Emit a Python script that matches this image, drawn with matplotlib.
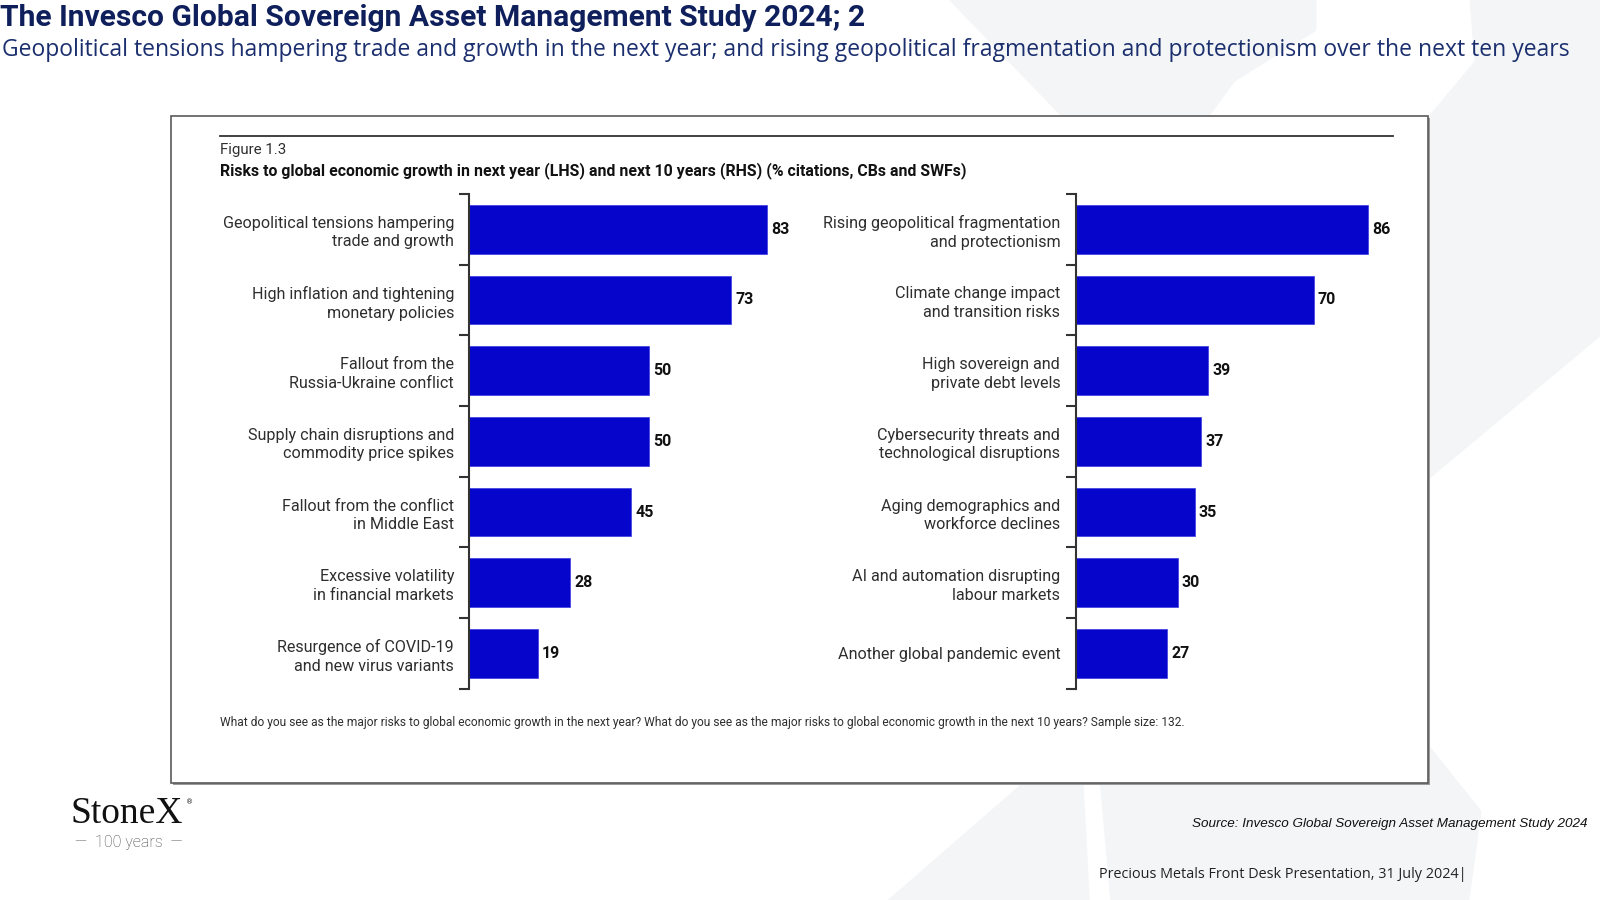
import matplotlib.pyplot as plt
from matplotlib.patches import Rectangle, Polygon

# ---- data ----
left_labels = [
    "Geopolitical tensions hampering\ntrade and growth",
    "High inflation and tightening\nmonetary policies",
    "Fallout from the\nRussia-Ukraine conflict",
    "Supply chain disruptions and\ncommodity price spikes",
    "Fallout from the conflict\nin Middle East",
    "Excessive volatility\nin financial markets",
    "Resurgence of COVID-19\nand new virus variants",
]
left_values = [83, 73, 50, 50, 45, 28, 19]

right_labels = [
    "Rising geopolitical fragmentation\nand protectionism",
    "Climate change impact\nand transition risks",
    "High sovereign and\nprivate debt levels",
    "Cybersecurity threats and\ntechnological disruptions",
    "Aging demographics and\nworkforce declines",
    "AI and automation disrupting\nlabour markets",
    "Another global pandemic event",
]
right_values = [86, 70, 39, 37, 35, 30, 27]

title = "The Invesco Global Sovereign Asset Management Study 2024; 2"
subtitle = ("Geopolitical tensions hampering trade and growth in the next year; and rising "
            "geopolitical fragmentation and protectionism over the next ten years")
fig_label = "Figure 1.3"
chart_title = ("Risks to global economic growth in next year (LHS) and next 10 years (RHS) "
               "(% citations, CBs and SWFs)")
footnote = ("What do you see as the major risks to global economic growth in the next year? "
            "What do you see as the major risks to global economic growth in the next 10 years? "
            "Sample size: 132.")
source = "Source: Invesco Global Sovereign Asset Management Study 2024"
footer = "Precious Metals Front Desk Presentation, 31 July 2024|"

BAR = "#0505cc"
NAVY = "#0e1f5b"
TXT = "#2e2e2e"
W, H = 1568.0, 882.0


def fx(x):
    return x / W


def fy(y):
    return 1 - y / H


def shape(pts):
    # faint background watermark piece, points given in page pixels
    fig.patches.append(Polygon([(fx(a), fy(b)) for a, b in pts], closed=True,
                               transform=fig.transFigure, facecolor="#f4f5f7",
                               edgecolor="none", zorder=0))


fig = plt.figure(figsize=(16, 9), dpi=100)
fig.patch.set_facecolor("white")

shape([(930, 0), (1290, 0), (1290, 30), (1210, 80), (1185, 114), (1040, 114)])
shape([(1440, 0), (1568, 0), (1568, 330), (1400, 470), (1400, 114), (1445, 60)])
shape([(870, 882), (1000, 769), (1062, 769), (1068, 882)])
shape([(1088, 882), (1078, 769), (1400, 769), (1400, 730), (1452, 795), (1440, 882)])

# framed chart box with slight shadow
fig.patches.append(Rectangle((fx(170), fy(769)), fx(1231), 653 / H, transform=fig.transFigure,
                             facecolor="#9a9a9a", edgecolor="none", zorder=1))
fig.patches.append(Rectangle((fx(168), fy(767)), fx(1231), 653 / H, transform=fig.transFigure,
                             facecolor="white", edgecolor="#5a5a5a", lw=1.2, zorder=2))
fig.add_artist(plt.Line2D([fx(216), fx(1365)], [fy(133), fy(133)], color="#333333", lw=1.3,
                          transform=fig.transFigure, zorder=3))

# headings
fig.text(fx(0), fy(18), title, fontsize=21.6, fontweight="bold", color=NAVY,
         family="Roboto", va="center", ha="left")
fig.text(fx(2), fy(49), subtitle, fontsize=16.5, color="#1b2f6e",
         family="Open Sans", va="center", ha="left")
fig.text(fx(216), fy(147), fig_label, fontsize=10.8, color=TXT, family="Roboto",
         va="center", ha="left", zorder=4)
fig.text(fx(216), fy(167), chart_title, fontsize=11.4, fontweight="bold", color="#111111",
         family="Roboto", va="center", ha="left", zorder=4)
fig.text(fx(216), fy(708), footnote, fontsize=8.65, color=TXT, family="Roboto",
         va="center", ha="left", zorder=4)


def draw_panel(x0, scale, labels, values):
    # scale: pixels per unit of value; axes spans 0..100
    ax = fig.add_axes([fx(x0), fy(675), fx(100 * scale), 485 / H])
    ax.set_zorder(5)
    ax.patch.set_alpha(0)
    y = list(range(len(values)))
    ax.barh(y, values, height=0.69, color=BAR, edgecolor="#3a3ae0", lw=0.5)
    for yi, v in zip(y, values):
        ax.text(v + 1.2, yi, str(v), va="center", ha="left", fontsize=11.5,
                fontweight="bold", color="#111111", family="Roboto")
    ax.set_xlim(0, 100)
    ax.set_ylim(len(values) - 0.5, -0.5)
    ax.set_yticks(y)
    ax.set_yticklabels(labels, fontsize=11.6, color=TXT, family="Roboto", linespacing=1.3)
    ax.set_yticks([i - 0.5 for i in range(len(values) + 1)], minor=True)
    ax.tick_params(axis="y", which="major", length=0, pad=11)
    ax.tick_params(axis="y", which="minor", length=7, width=1.5, color="#333333", direction="out")
    ax.set_xticks([])
    for s in ["top", "right", "bottom"]:
        ax.spines[s].set_visible(False)
    ax.spines["left"].set_color("#333333")
    ax.spines["left"].set_linewidth(1.5)
    return ax


draw_panel(460, 3.518, left_labels, left_values)
draw_panel(1054, 3.337, right_labels, right_values)

# logo and footer
fig.text(fx(69), fy(797), "StoneX", fontsize=27, color="#111111", family="Liberation Serif",
         va="center", ha="left")
fig.text(fx(182), fy(786), "®", fontsize=5, color="#111111", va="center", ha="left")
fig.text(fx(126), fy(826), "—  100 years  —", fontsize=11.5, color="#444444",
         family="Roboto", fontweight="light", va="center", ha="center")
fig.text(fx(1556), fy(808), source, fontsize=9.7, style="italic", color="#111111",
         family="Liberation Sans", va="center", ha="right")
fig.text(fx(1437), fy(857), footer, fontsize=10.4, color="#222222",
         family="Open Sans", va="center", ha="right")

fig.savefig("out.png", dpi=100, facecolor="white")
